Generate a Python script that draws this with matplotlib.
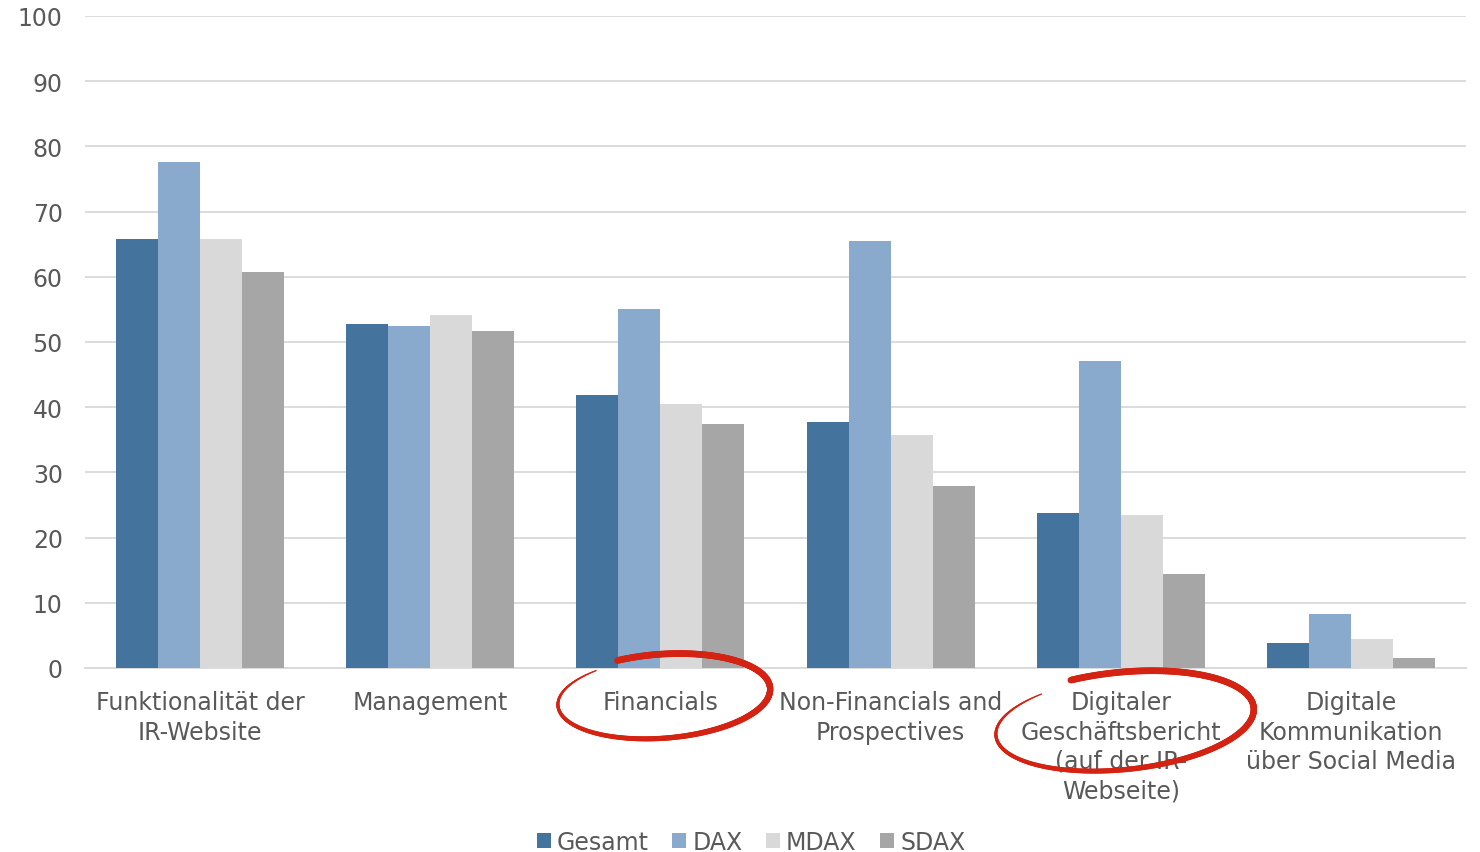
import numpy as np
import matplotlib.pyplot as plt
from matplotlib.collections import LineCollection

kategorien = ['Funktionalität der\nIR-Website', 'Management', 'Financials',
              'Non-Financials and\nProspectives',
              'Digitaler\nGeschäftsbericht\n(auf der IR-\nWebseite)',
              'Digitale\nKommunikation\nüber Social Media']
gesamt = [65.8, 52.8, 41.9, 37.7, 23.8, 3.8]
dax = [77.6, 52.5, 55.1, 65.5, 47.1, 8.3]
mdax = [65.8, 54.1, 40.5, 35.7, 23.5, 4.4]
sdax = [60.7, 51.7, 37.4, 27.9, 14.4, 1.5]
serien = ['Gesamt', 'DAX', 'MDAX', 'SDAX']
farben = ['#44739d', '#89aacd', '#d9d9d9', '#a6a6a6']
textfarbe = '#595959'

plt.rcParams['font.family'] = ['DejaVu Sans']

fig = plt.figure(figsize=(14.8, 8.53), dpi=100)
ax = fig.add_axes([85 / 1480, 1 - 669 / 853, 1381 / 1480, 652 / 853])

x = np.arange(len(kategorien))
breite = 0.73 / 4
for i, (werte, name) in enumerate(zip([gesamt, dax, mdax, sdax], serien)):
    ax.bar(x + (i - 1.5) * breite, werte, breite, color=farben[i], label=name,
           zorder=3)

ax.set_xlim(-0.5, len(kategorien) - 0.5)
ax.set_ylim(0, 100)
ax.set_yticks(range(0, 101, 10))
ax.yaxis.grid(True, color='#d9d9d9', lw=1.3, zorder=0)
ax.set_xticks(x)
ax.set_xticklabels(kategorien, color=textfarbe, fontsize=17, linespacing=1.28)
ax.tick_params(axis='x', length=0, pad=16)
ax.tick_params(axis='y', length=0, pad=16, labelcolor=textfarbe, labelsize=17)
for s in ['top', 'right', 'left']:
    ax.spines[s].set_visible(False)
ax.spines['bottom'].set_color('#d9d9d9')
ax.spines['bottom'].set_linewidth(1.3)

fig.legend(loc='center', bbox_to_anchor=(751 / 1480, 1 - 843 / 853), ncol=4,
           frameon=False, fontsize=17, handlelength=0.6, handleheight=0.6,
           handletextpad=0.25, columnspacing=1.0, labelcolor=textfarbe)

# rote Freihand-Kringel um zwei Beschriftungen
over = fig.add_axes([0, 0, 1, 1], facecolor='none')
over.set_xlim(0, 1480)
over.set_ylim(853, 0)
over.axis('off')


def kringel(cx, cy, rx, ry, start, bogen, drehung, schrumpf):
    t = np.radians(np.linspace(start, start + bogen, 400))
    f = np.linspace(1.0, schrumpf, t.size)
    px = rx * f * np.cos(t)
    py = ry * f * np.sin(t)
    d = np.radians(drehung)
    xs = cx + px * np.cos(d) - py * np.sin(d)
    ys = cy + px * np.sin(d) + py * np.cos(d)
    pts = np.column_stack([xs, ys]).reshape(-1, 1, 2)
    segs = np.concatenate([pts[:-1], pts[1:]], axis=1)
    u = np.linspace(0, 1, len(segs))
    lw = 0.9 + 3.9 * (1 - u ** 2.5)
    over.add_collection(LineCollection(segs, linewidths=lw, colors='#d42312',
                                       capstyle='round'))


kringel(662, 698, 111, 43, -112, 344, -4.5, 0.93)
kringel(1122, 723, 136, 50, -110, 342, -6, 0.92)

fig.savefig('out.png', dpi=100)
